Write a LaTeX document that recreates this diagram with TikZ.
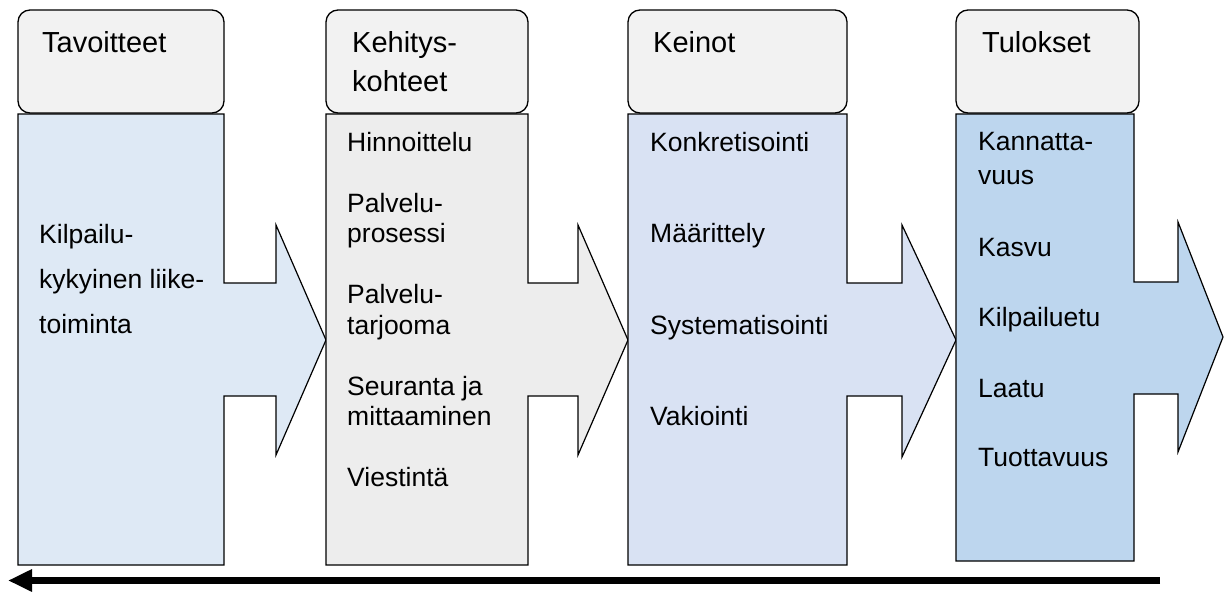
\documentclass[tikz,border=0pt]{standalone}
\usepackage{fontspec}
\setmainfont{Liberation Sans}
\usetikzlibrary{arrows.meta}
\definecolor{hdrfill}{HTML}{F2F2F2}
\definecolor{goalfill}{HTML}{DEE9F5}
\definecolor{devfill}{HTML}{EDEDED}
\definecolor{meansfill}{HTML}{D9E2F3}
\definecolor{resfill}{HTML}{BDD6EE}
\tikzset{
  hdrbox/.style={draw=black, line width=1.3pt, rounded corners=12pt, fill=hdrfill},
  bodybox/.style={draw=black, line width=1.2pt, line join=miter},
  htext/.style={anchor=base west, inner sep=0pt, font=\fontsize{29}{33}\selectfont},
  btext/.style={anchor=base west, inner sep=0pt, font=\fontsize{26.5}{30}\selectfont},
  backarrow/.style={line width=7.5pt, -{Triangle[length=24pt,width=21pt]}}
}
\begin{document}
\begin{tikzpicture}[x=1pt,y=-1pt]
\useasboundingbox (0,0) rectangle (1230,591);

% ---- column bodies (block with right-pointing arrow) ----
\draw[bodybox, fill=goalfill]
  (18,114) -- (224,114) -- (224,283) -- (276,283) -- (276,225) -- (326,340)
  -- (276,455) -- (276,396) -- (224,396) -- (224,565) -- (18,565) -- cycle;
\draw[bodybox, fill=devfill]
  (326,114) -- (528,114) -- (528,283) -- (578,283) -- (578,225) -- (628,340)
  -- (578,455) -- (578,396) -- (528,396) -- (528,565) -- (326,565) -- cycle;
\draw[bodybox, fill=meansfill]
  (628,114) -- (847,114) -- (847,283) -- (902,283) -- (902,225) -- (956,340)
  -- (902,457) -- (902,396) -- (847,396) -- (847,565) -- (628,565) -- cycle;
\draw[bodybox, fill=resfill]
  (956,114) -- (1134,114) -- (1134,282) -- (1178,282) -- (1178,222) -- (1223,337)
  -- (1178,452) -- (1178,394) -- (1134,394) -- (1134,561) -- (956,561) -- cycle;

% ---- headers ----
\draw[hdrbox] (18,10) rectangle (224,113);
\draw[hdrbox] (326,10) rectangle (528,113);
\draw[hdrbox] (628,10) rectangle (847,113);
\draw[hdrbox] (956,10) rectangle (1139,113);

\node[htext] (h1) at (42,53) {Tavoitteet};
\node[htext] (h2a) at (352,53) {Kehitys-};
\node[htext] (h2b) at (352,92) {kohteet};
\node[htext] (h3) at (653,53) {Keinot};
\node[htext] (h4) at (982,53) {Tulokset};

% ---- goals ----
\node[btext] (g1) at (39,243) {Kilpailu-};
\node[btext] (g2) at (39,288) {kykyinen liike-};
\node[btext] (g3) at (39,333) {toiminta};

% ---- development targets ----
\node[btext] (d1) at (347,151) {Hinnoittelu};
\node[btext] (d2) at (347,212) {Palvelu-};
\node[btext] (d3) at (347,242.5) {prosessi};
\node[btext] (d4) at (347,303.5) {Palvelu-};
\node[btext] (d5) at (347,334) {tarjooma};
\node[btext] (d6) at (347,395) {Seuranta ja};
\node[btext] (d7) at (347,425.5) {mittaaminen};
\node[btext] (d8) at (347,486.5) {Viestintä};

% ---- means ----
\node[btext] (m1) at (650,151) {Konkretisointi};
\node[btext] (m2) at (650,242) {Määrittely};
\node[btext] (m3) at (650,334.5) {Systematisointi};
\node[btext] (m4) at (650,425) {Vakiointi};

% ---- results ----
\node[btext] (r1) at (978,150.7) {Kannatta-};
\node[btext] (r2) at (978,184) {vuus};
\node[btext] (r3) at (978,256.7) {Kasvu};
\node[btext] (r4) at (978,326) {Kilpailuetu};
\node[btext] (r5) at (978,397.7) {Laatu};
\node[btext] (r6) at (978,466.7) {Tuottavuus};

% ---- feedback arrow along the bottom ----
\coordinate (fbstart) at (1160,580.5);
\coordinate (fbend) at (8,580.5);
\draw[backarrow] (fbstart) -- (fbend);
\end{tikzpicture}
\end{document}
